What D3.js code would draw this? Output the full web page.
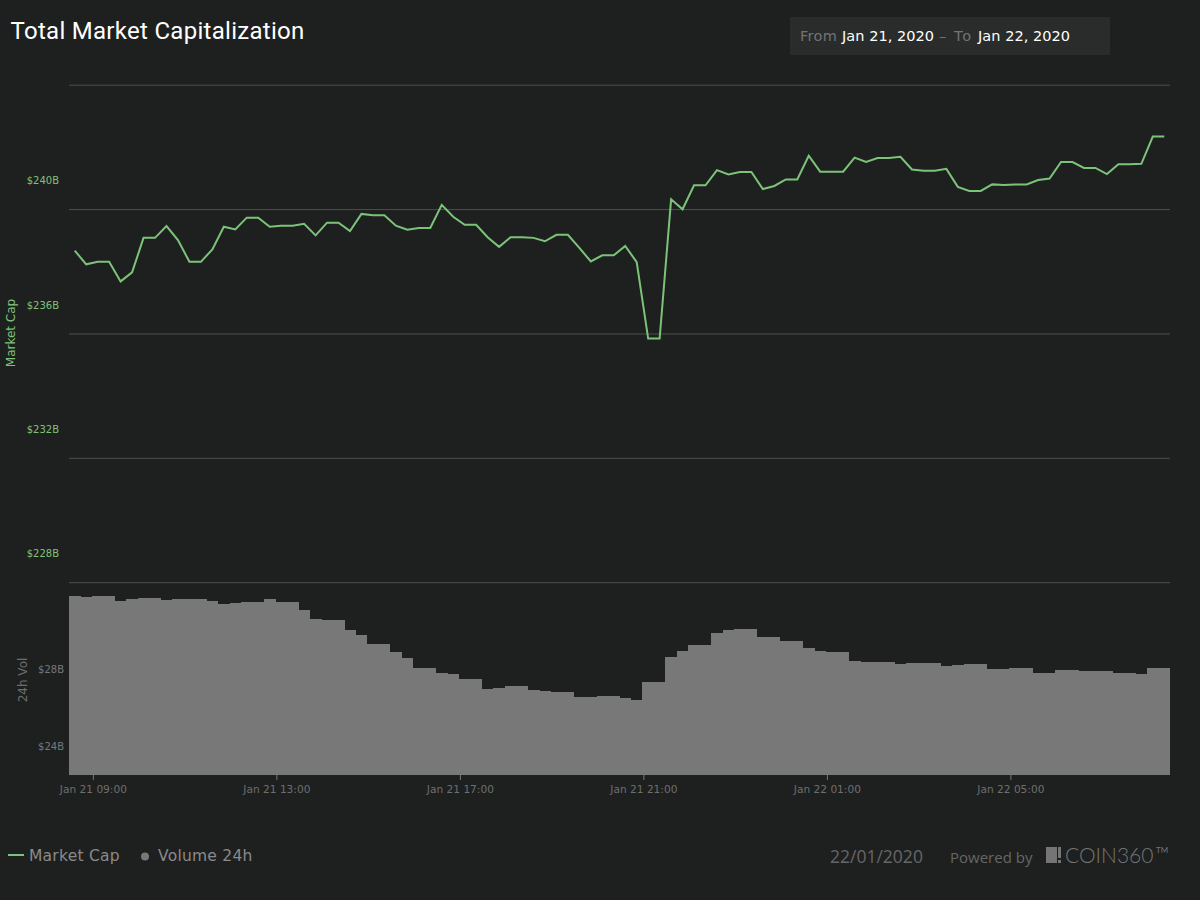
<!DOCTYPE html>
<html>
<head>
<meta charset="utf-8">
<title>Total Market Capitalization</title>
<script src="https://cdnjs.cloudflare.com/ajax/libs/d3/7.8.5/d3.min.js"></script>
<style>
html, body { margin: 0; padding: 0; background: #1e2020; }
svg { display: block; }
text { font-family: "DejaVu Sans", sans-serif; }
</style>
</head>
<body>
<svg id="chart" width="1200" height="900"></svg>
<script>
// market cap in $B, one reading every 15 min
var marketCap = [
    238.68, 238.24, 238.32, 238.32, 237.69, 237.98, 239.09, 239.09, 239.47, 239.02,
    238.32, 238.32, 238.72, 239.45, 239.36, 239.74, 239.74, 239.45, 239.48, 239.48,
    239.54, 239.17, 239.58, 239.58, 239.31, 239.86, 239.82, 239.82, 239.48, 239.35,
    239.41, 239.41, 240.15, 239.77, 239.51, 239.51, 239.11, 238.80, 239.11, 239.11,
    239.09, 238.98, 239.19, 239.19, 238.77, 238.33, 238.53, 238.53, 238.83, 238.31,
    235.85, 235.85, 240.33, 240.01, 240.78, 240.78, 241.27, 241.13, 241.21, 241.21,
    240.66, 240.76, 240.97, 240.97, 241.73, 241.22, 241.22, 241.22, 241.67, 241.53,
    241.66, 241.66, 241.70, 241.29, 241.25, 241.25, 241.31, 240.73, 240.60, 240.60,
    240.81, 240.79, 240.81, 240.81, 240.95, 241.00, 241.53, 241.53, 241.34, 241.34,
    241.14, 241.46, 241.46, 241.47, 242.35, 242.35
];
// 24h volume in $B
var volume = [
    33.30, 33.26, 33.30, 33.30, 33.04, 33.14, 33.19, 33.19, 33.09, 33.14,
    33.14, 33.14, 33.04, 32.88, 32.94, 32.99, 32.99, 33.14, 32.99, 32.99,
    32.57, 32.10, 32.05, 32.05, 31.53, 31.27, 30.81, 30.81, 30.39, 30.08,
    29.56, 29.56, 29.30, 29.25, 28.99, 28.99, 28.47, 28.52, 28.62, 28.62,
    28.42, 28.36, 28.31, 28.31, 28.05, 28.05, 28.10, 28.10, 28.00, 27.90,
    28.83, 28.83, 30.13, 30.44, 30.75, 30.75, 31.38, 31.53, 31.58, 31.58,
    31.17, 31.17, 30.96, 30.96, 30.60, 30.44, 30.39, 30.39, 29.92, 29.87,
    29.87, 29.87, 29.77, 29.82, 29.82, 29.82, 29.66, 29.71, 29.77, 29.77,
    29.51, 29.51, 29.56, 29.56, 29.30, 29.30, 29.45, 29.45, 29.40, 29.40,
    29.40, 29.30, 29.30, 29.25, 29.56, 29.56
];
var capTicks = [228, 232, 236, 240];
var capGrid = [228, 232, 236, 240, 244];
var volTicks = [24, 28];
var timeTicks = ["2020-01-21T09:00Z", "2020-01-21T13:00Z", "2020-01-21T17:00Z",
                 "2020-01-21T21:00Z", "2020-01-22T01:00Z", "2020-01-22T05:00Z"];
var firstTime = "2020-01-21T08:35:30Z";

var stepMs = 15 * 60 * 1000;
var t0 = new Date(firstTime).getTime();
var times = d3.range(marketCap.length).map(function(i) { return new Date(t0 + i * stepMs); });

var plotLeft = 69, plotRight = 1170, labelLift = 29;
var bg = "#1e2020", green = "#7cc37a", grey = "#787878";

var svg = d3.select("#chart");
svg.append("rect").attr("width", 1200).attr("height", 900).attr("fill", bg);

var x = d3.scaleUtc()
    .domain([new Date(t0 - stepMs / 2), new Date(t0 + (times.length - 0.5) * stepMs)])
    .range([plotLeft, plotRight]);
var yCap = d3.scaleLinear().domain([228, 244]).range([582.7, 85.2]);
var yVol = d3.scaleLinear().domain([24, 34]).range([775, 582.5]);

// volume: each reading fills its own 15 min band
svg.append("g").selectAll("rect")
    .data(volume).enter()
    .append("rect")
    .attr("x", function(d, i) { return x(new Date(times[i].getTime() - stepMs / 2)); })
    .attr("width", x(new Date(t0 + stepMs)) - x(new Date(t0)) + 0.3)
    .attr("y", function(d) { return yVol(d); })
    .attr("height", function(d) { return yVol(24) - yVol(d); })
    .attr("fill", grey)
    .attr("shape-rendering", "crispEdges");

// grid
svg.append("g").selectAll("line")
    .data(capGrid).enter()
    .append("line")
    .attr("x1", plotLeft).attr("x2", plotRight)
    .attr("y1", function(d) { return yCap(d); })
    .attr("y2", function(d) { return yCap(d); })
    .attr("stroke", "#4c4e4c")
    .attr("stroke-width", 1);

// market cap line
var line = d3.line()
    .x(function(d, i) { return x(times[i]); })
    .y(function(d) { return yCap(d); });
svg.append("path")
    .datum(marketCap)
    .attr("fill", "none")
    .attr("stroke", green)
    .attr("stroke-width", 2)
    .attr("d", line);

// y labels sit above their tick position
var capAxis = d3.axisLeft(yCap).tickValues(capTicks).tickSize(0).tickPadding(0)
    .tickFormat(function(d) { return "$" + d + "B"; });
var gCap = svg.append("g").attr("transform", "translate(59," + (-labelLift) + ")").call(capAxis);
gCap.select(".domain").remove();
gCap.selectAll("text").attr("fill", green).style("font-size", "10px");

var volAxis = d3.axisLeft(yVol).tickValues(volTicks).tickSize(0).tickPadding(0)
    .tickFormat(function(d) { return "$" + d + "B"; });
var gVol = svg.append("g").attr("transform", "translate(64," + (-labelLift) + ")").call(volAxis);
gVol.select(".domain").remove();
gVol.selectAll("text").attr("fill", grey).style("font-size", "10px");

// x axis
var fmt = d3.utcFormat("%b %d %H:%M");
var xAxis = d3.axisBottom(x)
    .tickValues(timeTicks.map(function(d) { return new Date(d); }))
    .tickSize(5).tickPadding(5)
    .tickFormat(fmt);
var gX = svg.append("g").attr("transform", "translate(-0.6,775)").call(xAxis);
gX.select(".domain").remove();
gX.selectAll("line").attr("stroke", "#787878");
gX.selectAll("text").attr("fill", "#6e6e6e").style("font-size", "10.6px");

// axis titles
svg.append("text")
    .attr("transform", "translate(15,333) rotate(-90)")
    .attr("text-anchor", "middle")
    .attr("fill", green)
    .style("font-size", "12px")
    .text("Market Cap");
svg.append("text")
    .attr("transform", "translate(27,680) rotate(-90)")
    .attr("text-anchor", "middle")
    .attr("fill", "#6e6e6e")
    .style("font-size", "12px")
    .text("24h Vol");

// title
svg.append("text")
    .attr("x", 10.5).attr("y", 39)
    .attr("fill", "#ffffff")
    .style("font-family", "Roboto")
    .style("font-size", "24px")
    .style("letter-spacing", "0.29px")
    .text("Total Market Capitalization");

// date range box
svg.append("rect")
    .attr("x", 790).attr("y", 17)
    .attr("width", 320).attr("height", 38)
    .attr("rx", 1)
    .attr("fill", "#2a2c2b");
var range = svg.append("text")
    .attr("y", 41)
    .style("font-size", "14.5px")
    .style("letter-spacing", "0.05px");
range.append("tspan").attr("x", 800).attr("fill", "#737373").style("letter-spacing", "0.3px").text("From");
range.append("tspan").attr("x", 842).attr("fill", "#ffffff").text("Jan 21, 2020");
range.append("tspan").attr("x", 939).attr("fill", "#737373").text("\u2013");
range.append("tspan").attr("x", 954).attr("fill", "#737373").style("letter-spacing", "1.8px").text("To");
range.append("tspan").attr("x", 978).attr("fill", "#ffffff").text("Jan 22, 2020");

// legend
svg.append("line")
    .attr("x1", 8).attr("x2", 24)
    .attr("y1", 855).attr("y2", 855)
    .attr("stroke", green).attr("stroke-width", 2);
svg.append("text")
    .attr("x", 29).attr("y", 861)
    .attr("fill", "#8a8a8a")
    .style("font-size", "15.5px")
    .style("letter-spacing", "0.25px")
    .text("Market Cap");
svg.append("circle")
    .attr("cx", 145).attr("cy", 856.5).attr("r", 4)
    .attr("fill", grey);
svg.append("text")
    .attr("x", 158).attr("y", 861)
    .attr("fill", "#8a8a8a")
    .style("font-size", "15.5px")
    .style("letter-spacing", "0.25px")
    .text("Volume 24h");

// footer
svg.append("text")
    .attr("x", 830).attr("y", 863)
    .attr("fill", "#666666")
    .style("font-family", "'Open Sans'")
    .style("font-size", "17.5px")
    .text("22/01/2020");
svg.append("text")
    .attr("x", 950).attr("y", 863)
    .attr("fill", "#666666")
    .style("font-family", "'Open Sans'")
    .style("font-size", "15px")
    .text("Powered by");

// coin360 mark
var logo = svg.append("g").attr("fill", "#757575");
logo.append("rect").attr("x", 1046).attr("y", 847).attr("width", 11).attr("height", 16);
logo.append("rect").attr("x", 1058).attr("y", 847).attr("width", 3).attr("height", 11);
logo.append("rect").attr("x", 1058).attr("y", 860).attr("width", 3).attr("height", 3);
svg.append("text")
    .attr("x", 1065).attr("y", 863)
    .attr("fill", "#757575")
    .style("font-family", "Lato")
    .style("font-weight", 300)
    .style("font-size", "21px")
    .text("COIN360");
svg.append("text")
    .attr("x", 1156).attr("y", 853)
    .attr("fill", "#757575")
    .style("font-family", "Lato")
    .style("font-size", "8px")
    .text("TM");
</script>
</body>
</html>
